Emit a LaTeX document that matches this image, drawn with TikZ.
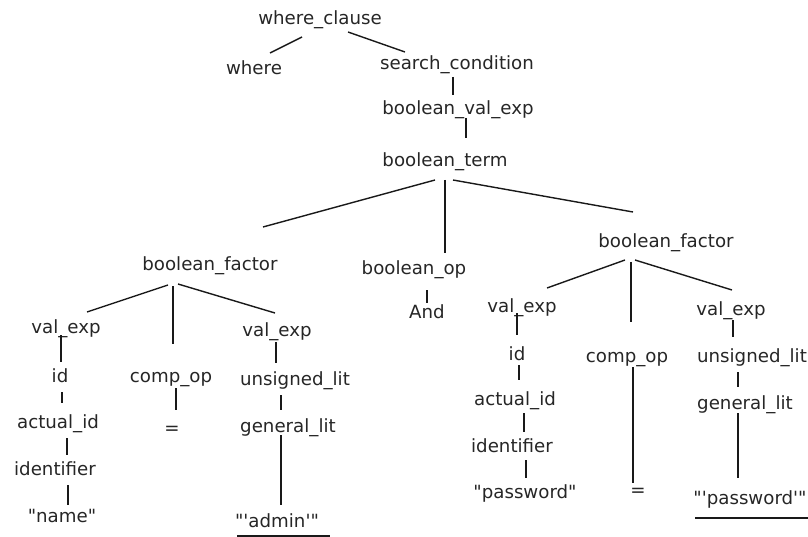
\documentclass[tikz,border=0pt]{standalone}
\usepackage{fontspec}
\newfontfamily\treefont{DejaVu Sans}
\begin{document}
\begin{tikzpicture}[x=1pt,y=-1pt,
  lbl/.style={anchor=base,inner sep=0pt,outer sep=0pt,text=black!85,
    font=\treefont\fontsize{18.2}{21}\selectfont},
  edge/.style={draw=black!90,line width=1.4pt}]
\useasboundingbox[fill=white] (0,0) rectangle (808,537);

% parse tree nodes
\node[lbl] (wc)   at (320,25)  {where\_clause};
\node[lbl] (wh)   at (254,75)  {where};
\node[lbl] (sc)   at (457,70)  {search\_condition};
\node[lbl] (bve)  at (458,115) {boolean\_val\_exp};
\node[lbl] (bt)   at (445,167) {boolean\_term};
\node[lbl] (bfL)  at (210,270) {boolean\_factor};
\node[lbl] (bop)  at (414,275) {boolean\_op};
\node[lbl] (and)  at (427,318) {And};
\node[lbl] (bfR)  at (666,248) {boolean\_factor};
% left factor
\node[lbl] (veLL) at (66,333)  {val\_exp};
\node[lbl] (veLR) at (277,336) {val\_exp};
\node[lbl] (idL)  at (60,382)  {id};
\node[lbl] (cmpL) at (171,382) {comp\_op};
\node[lbl] (usL)  at (295,385) {unsigned\_lit};
\node[lbl] (aidL) at (58,428)  {actual\_id};
\node[lbl] (eqL)  at (172,434) {=};
\node[lbl] (glL)  at (288,432) {general\_lit};
\node[lbl] (itL)  at (55,475)  {identifier};
\node[lbl] (nmL)  at (62,522)  {"name"};
\node[lbl] (adm)  at (277,527) {"'admin'"};
% right factor
\node[lbl] (veRL) at (522,312) {val\_exp};
\node[lbl] (veRR) at (731,315) {val\_exp};
\node[lbl] (idR)  at (517,360) {id};
\node[lbl] (cmpR) at (627,362) {comp\_op};
\node[lbl] (usR)  at (752,362) {unsigned\_lit};
\node[lbl] (aidR) at (515,405) {actual\_id};
\node[lbl] (glR)  at (745,409) {general\_lit};
\node[lbl] (itR)  at (512,452) {identifier};
\node[lbl] (pwR)  at (525,498) {"password"};
\node[lbl] (eqR)  at (638,496) {=};
\node[lbl] (pw2)  at (750,504) {"'password'"};

% edges
\draw[edge] ([shift={(-18,12)}]wc.base) -- ([shift={(16,-22)}]wh.base);
\draw[edge] ([shift={(28,7)}]wc.base) -- ([shift={(-52,-18)}]sc.base);
\draw[edge] ([shift={(-4,7)}]sc.base) -- ([shift={(-5,-20)}]bve.base);
\draw[edge] ([shift={(8,3)}]bve.base) -- ([shift={(21,-29)}]bt.base);
\draw[edge] ([shift={(-10,13)}]bt.base) -- ([shift={(53,-43)}]bfL.base);
\draw[edge] ([shift={(0,13)}]bt.base) -- ([shift={(31,-22)}]bop.base);
\draw[edge] ([shift={(8,13)}]bt.base) -- ([shift={(-33,-36)}]bfR.base);
\draw[edge] ([shift={(13,15)}]bop.base) -- ([shift={(0,-15)}]and.base);

\draw[edge] ([shift={(-42,15)}]bfL.base) -- ([shift={(21,-21)}]veLL.base);
\draw[edge] ([shift={(-37,16)}]bfL.base) -- ([shift={(2,-38)}]cmpL.base);
\draw[edge] ([shift={(-32,14)}]bfL.base) -- ([shift={(-2,-23)}]veLR.base);
\draw[edge] ([shift={(-5,2)}]veLL.base) -- ([shift={(1,-20)}]idL.base);
\draw[edge] ([shift={(2,10)}]idL.base) -- ([shift={(4,-25)}]aidL.base);
\draw[edge] ([shift={(9,10)}]aidL.base) -- ([shift={(12,-20)}]itL.base);
\draw[edge] ([shift={(13,10)}]itL.base) -- ([shift={(6,-17)}]nmL.base);
\draw[edge] ([shift={(5,6)}]cmpL.base) -- ([shift={(4,-24)}]eqL.base);
\draw[edge] ([shift={(-1,6)}]veLR.base) -- ([shift={(-19,-22)}]usL.base);
\draw[edge] ([shift={(-14,10)}]usL.base) -- ([shift={(-7,-22)}]glL.base);
\draw[edge] ([shift={(-7,3)}]glL.base) -- ([shift={(4,-22)}]adm.base);
\draw[edge] ([shift={(-40,9)}]adm.base) -- ([shift={(53,9)}]adm.base);

\draw[edge] ([shift={(-41,12)}]bfR.base) -- ([shift={(25,-24)}]veRL.base);
\draw[edge] ([shift={(-35,14)}]bfR.base) -- ([shift={(4,-40)}]cmpR.base);
\draw[edge] ([shift={(-31,12)}]bfR.base) -- ([shift={(1,-25)}]veRR.base);
\draw[edge] ([shift={(-5,1)}]veRL.base) -- ([shift={(0,-25)}]idR.base);
\draw[edge] ([shift={(2,5)}]idR.base) -- ([shift={(4,-25)}]aidR.base);
\draw[edge] ([shift={(9,8)}]aidR.base) -- ([shift={(12,-20)}]itR.base);
\draw[edge] ([shift={(14,8)}]itR.base) -- ([shift={(1,-20)}]pwR.base);
\draw[edge] ([shift={(6,5)}]cmpR.base) -- ([shift={(-5,-13)}]eqR.base);
\draw[edge] ([shift={(2,5)}]veRR.base) -- ([shift={(-19,-25)}]usR.base);
\draw[edge] ([shift={(-14,10)}]usR.base) -- ([shift={(-7,-22)}]glR.base);
\draw[edge] ([shift={(-7,4)}]glR.base) -- ([shift={(-12,-26)}]pw2.base);
\draw[edge] ([shift={(-55,14)}]pw2.base) -- ([shift={(58,14)}]pw2.base);
\end{tikzpicture}
\end{document}
